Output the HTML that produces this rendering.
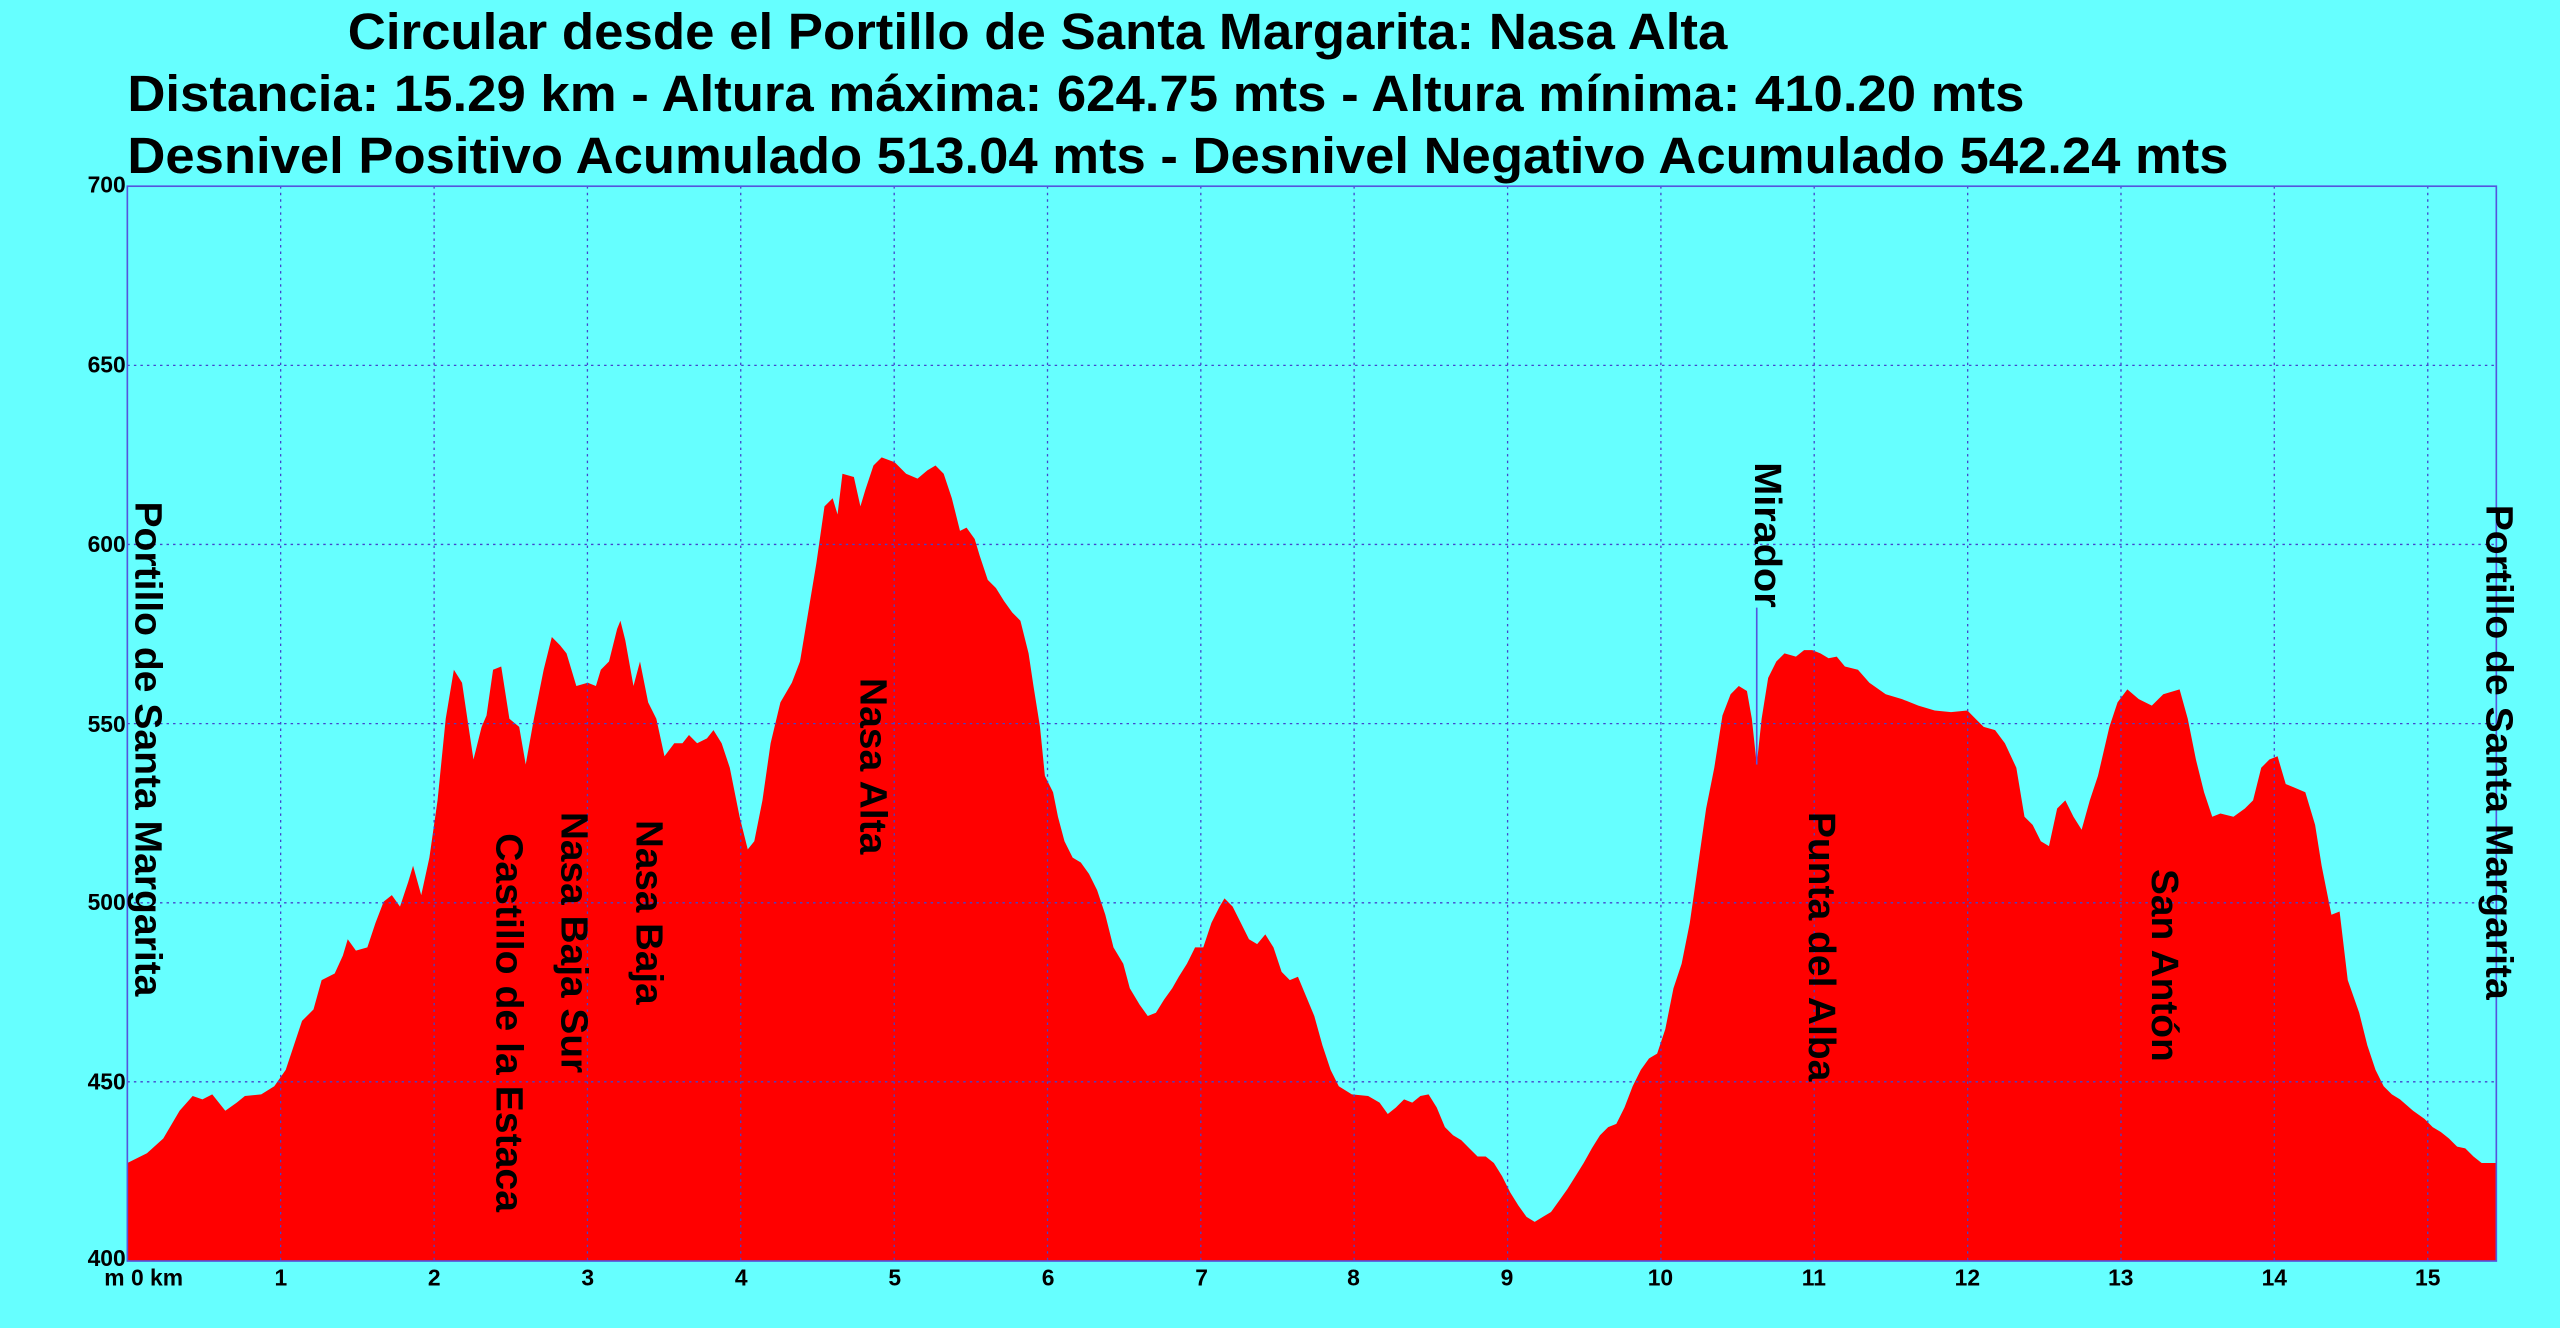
<!DOCTYPE html>
<html><head><meta charset="utf-8"><style>
html,body{margin:0;padding:0;background:#66ffff;}
svg{display:block;}
text{font-family:"Liberation Sans",Arial,sans-serif;font-weight:bold;fill:#000;}
</style></head><body>
<svg width="2560" height="1328" viewBox="0 0 1568 813" preserveAspectRatio="none" xmlns="http://www.w3.org/2000/svg">
<rect width="1568" height="813" fill="#66ffff"/>
<text x="213" y="30" font-size="31" textLength="845" lengthAdjust="spacingAndGlyphs">Circular desde el Portillo de Santa Margarita: Nasa Alta</text>
<text x="78" y="68" font-size="31" textLength="1162" lengthAdjust="spacingAndGlyphs">Distancia: 15.29 km - Altura máxima: 624.75 mts - Altura mínima: 410.20 mts</text>
<text x="78" y="106" font-size="31" textLength="1287" lengthAdjust="spacingAndGlyphs">Desnivel Positivo Acumulado 513.04 mts - Desnivel Negativo Acumulado 542.24 mts</text>
<polygon fill="#ff0000" points="78,772 78,712 90,706 100,697 110,680 118,671 124,673 130,670 138,680 145,675 150,671 160,670 168,665 175,655 180,640 185,625 192,618 197,600 205,596 210,585 213,575 218,582 225,580 230,565 235,552 240,548 245,555 250,540 253,530 258,548 263,525 268,490 273,440 278,410 283,418 287,445 290,465 295,445 298,438 302,410 307,408 312,440 318,445 322,468 327,440 333,410 338,390 343,395 347,400 353,420 360,418 365,420 368,410 373,405 378,385 380,380 383,392 388,420 392,405 397,430 402,440 407,463 413,455 418,455 422,450 427,455 433,452 437,447 442,455 447,470 453,500 458,520 462,515 467,490 472,455 478,430 485,418 490,405 495,375 500,345 505,310 510,305 513,315 516,290 523,292 527,310 530,300 535,285 540,280 548,283 555,290 562,293 568,288 573,285 578,290 583,305 588,325 592,323 597,330 600,340 605,355 610,360 615,368 620,375 625,380 630,400 633,420 637,445 640,475 645,485 648,500 652,515 657,525 662,528 667,535 672,545 677,560 682,580 688,590 692,605 698,615 703,622 708,620 713,612 718,605 722,598 727,590 732,580 737,580 742,565 747,555 750,550 755,555 760,565 765,575 770,578 775,572 780,580 785,595 790,600 795,598 800,610 805,622 810,640 815,655 820,665 828,670 838,671 845,675 850,682 855,678 860,673 865,675 870,671 875,670 880,678 885,690 890,695 895,698 900,703 905,708 910,708 915,712 920,720 925,730 930,738 935,745 940,748 945,745 950,742 955,735 960,728 965,720 970,712 975,703 980,695 985,690 990,688 995,678 1000,665 1005,655 1010,648 1015,645 1020,630 1025,605 1030,590 1035,565 1040,530 1045,495 1050,470 1055,438 1060,425 1065,420 1070,423 1073,440 1076,468 1079,440 1083,415 1088,405 1093,400 1100,402 1105,398 1110,398 1115,400 1120,403 1125,402 1130,408 1138,410 1145,418 1155,425 1165,428 1175,432 1185,435 1195,436 1205,435 1210,440 1215,445 1222,447 1228,455 1235,470 1240,500 1245,505 1250,515 1255,518 1260,495 1265,490 1270,500 1275,508 1280,490 1285,475 1292,445 1297,430 1303,422 1310,428 1318,432 1325,425 1335,422 1340,440 1345,465 1350,485 1355,500 1360,498 1368,500 1375,495 1380,490 1385,470 1390,465 1395,463 1400,480 1405,482 1412,485 1418,505 1422,530 1428,560 1433,558 1438,600 1445,620 1450,640 1455,655 1460,665 1465,670 1470,673 1478,680 1485,685 1490,690 1495,693 1500,697 1505,702 1510,703 1515,708 1520,712 1529,712 1529,772"/>
<g stroke="#4444cc" stroke-width="0.8" stroke-dasharray="1.5,2.5" fill="none">
<line x1="78" y1="223.7" x2="1529" y2="223.7"/><line x1="78" y1="333.3" x2="1529" y2="333.3"/><line x1="78" y1="443" x2="1529" y2="443"/><line x1="78" y1="552.7" x2="1529" y2="552.7"/><line x1="78" y1="662.3" x2="1529" y2="662.3"/>
<line x1="171.9" y1="114" x2="171.9" y2="772"/><line x1="265.9" y1="114" x2="265.9" y2="772"/><line x1="359.8" y1="114" x2="359.8" y2="772"/><line x1="453.7" y1="114" x2="453.7" y2="772"/><line x1="547.7" y1="114" x2="547.7" y2="772"/><line x1="641.6" y1="114" x2="641.6" y2="772"/><line x1="735.5" y1="114" x2="735.5" y2="772"/><line x1="829.4" y1="114" x2="829.4" y2="772"/><line x1="923.4" y1="114" x2="923.4" y2="772"/><line x1="1017.3" y1="114" x2="1017.3" y2="772"/><line x1="1111.2" y1="114" x2="1111.2" y2="772"/><line x1="1205.2" y1="114" x2="1205.2" y2="772"/><line x1="1299.1" y1="114" x2="1299.1" y2="772"/><line x1="1393" y1="114" x2="1393" y2="772"/><line x1="1487" y1="114" x2="1487" y2="772"/>
</g>
<rect x="78" y="114" width="1451" height="658" fill="none" stroke="#5555dd" stroke-width="1"/>
<line x1="1076" y1="372" x2="1076" y2="468" stroke="#5555dd" stroke-width="1"/>
<g font-size="14" text-anchor="end">
<text x="77" y="118">700</text><text x="77" y="228">650</text><text x="77" y="338">600</text><text x="77" y="448">550</text><text x="77" y="557">500</text><text x="77" y="667">450</text><text x="77" y="775">400</text>
</g>
<g font-size="14" text-anchor="middle">
<text x="88" y="787">m 0 km</text><text x="172" y="787">1</text><text x="266" y="787">2</text><text x="360" y="787">3</text><text x="454" y="787">4</text><text x="548" y="787">5</text><text x="642" y="787">6</text><text x="736" y="787">7</text><text x="829" y="787">8</text><text x="923" y="787">9</text><text x="1017" y="787">10</text><text x="1111" y="787">11</text><text x="1205" y="787">12</text><text x="1299" y="787">13</text><text x="1393" y="787">14</text><text x="1487" y="787">15</text>
</g>
<g font-size="23" lengthAdjust="spacingAndGlyphs">
<text transform="translate(83,307) rotate(90)" textLength="303" lengthAdjust="spacingAndGlyphs">Portillo de Santa Margarita</text>
<text transform="translate(304,510) rotate(90)" textLength="232" lengthAdjust="spacingAndGlyphs">Castillo de la Estaca</text>
<text transform="translate(344,497) rotate(90)" textLength="160" lengthAdjust="spacingAndGlyphs">Nasa Baja Sur</text>
<text transform="translate(390,502) rotate(90)" textLength="113" lengthAdjust="spacingAndGlyphs">Nasa Baja</text>
<text transform="translate(527,415) rotate(90)" textLength="108" lengthAdjust="spacingAndGlyphs">Nasa Alta</text>
<text transform="translate(1075,283) rotate(90)" textLength="89" lengthAdjust="spacingAndGlyphs">Mirador</text>
<text transform="translate(1108,497) rotate(90)" textLength="165" lengthAdjust="spacingAndGlyphs">Punta del Alba</text>
<text transform="translate(1318,532) rotate(90)" textLength="118" lengthAdjust="spacingAndGlyphs">San Antón</text>
<text transform="translate(1523,309) rotate(90)" textLength="303" lengthAdjust="spacingAndGlyphs">Portillo de Santa Margarita</text>
</g>
</svg>
</body></html>
